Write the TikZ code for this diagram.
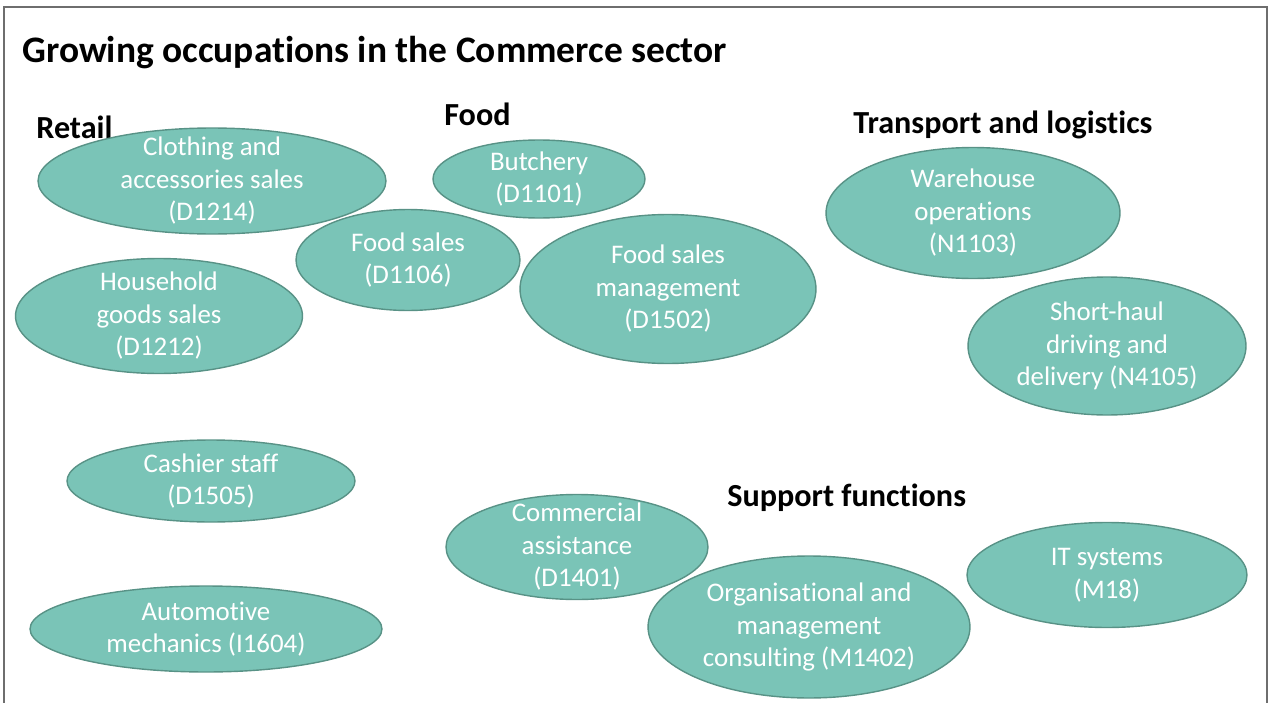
\documentclass[tikz,border=0pt]{standalone}
\usepackage{fontspec}
\setmainfont{Carlito}[Ligatures=NoCommon]
\usetikzlibrary{shapes.geometric}

\definecolor{occfill}{RGB}{122,196,183}
\definecolor{occline}{RGB}{88,146,134}
\definecolor{framegray}{RGB}{110,110,110}

\begin{document}
\begin{tikzpicture}[x=0.02cm, y=-0.02cm, occ/.style={ellipse, draw=occline, line width=0.8pt, fill=occfill, text=white, inner xsep=0pt, inner ysep=-9pt, align=center, font=\fontsize{15.3}{18.5}\selectfont}, group/.style={inner sep=0pt, font=\fontsize{18.3}{22}\selectfont\bfseries}]
  \useasboundingbox (0,0) rectangle (1272,703);
  \draw[framegray, line width=1pt] (4,703) -- (4,7) -- (1267,7) -- (1267,703);
  \node[inner sep=0pt, font=\fontsize{21.3}{26}\selectfont\bfseries, anchor=west] (title) at (22,53) {Growing occupations in the Commerce sector};
  % groups
  \node[group, anchor=west] (retail) at (36,127) {Retail};
  \node[group, anchor=west] (food) at (444,114) {Food};
  \node[group, anchor=west] (transport) at (853,125) {Transport and logistics};
  \node[group, anchor=west] (support) at (727,498) {Support functions};
  % retail
  \node[occ, minimum width=6.96cm, minimum height=2.12cm] (clothing) at (212,181) {Clothing and\\accessories sales\\(D1214)};
  \node[occ, minimum width=5.74cm, minimum height=2.30cm] (household) at (159,316) {Household\\goods sales\\(D1212)};
  \node[occ, minimum width=5.76cm, minimum height=1.64cm] (cashier) at (211,481) {Cashier staff\\(D1505)};
  \node[occ, minimum width=7.04cm, minimum height=1.72cm] (automotive) at (206,629) {Automotive\\mechanics (I1604)};
  % food
  \node[occ, minimum width=4.24cm, minimum height=1.56cm] (butchery) at (539,179) {Butchery\\(D1101)};
  \node[occ, minimum width=4.48cm, minimum height=2.02cm] (foodsales) at (408,260) {Food sales\\(D1106)};
  \node[occ, minimum width=5.92cm, minimum height=2.98cm] (foodmgmt) at (668,289) {Food sales\\management\\(D1502)};
  % transport and logistics
  \node[occ, minimum width=5.88cm, minimum height=2.62cm] (warehouse) at (973,213) {Warehouse\\operations\\(N1103)};
  \node[occ, minimum width=5.56cm, minimum height=2.76cm] (shorthaul) at (1107,346) {Short-haul\\driving and\\delivery (N4105)};
  % support functions
  \node[occ, minimum width=5.24cm, minimum height=2.10cm] (commercial) at (577,547) {Commercial\\assistance\\(D1401)};
  \node[occ, minimum width=6.44cm, minimum height=2.84cm] (consulting) at (809,627) {Organisational and\\management\\consulting (M1402)};
  \node[occ, minimum width=5.60cm, minimum height=2.10cm] (itsys) at (1107,575) {IT systems\\(M18)};
\end{tikzpicture}
\end{document}
